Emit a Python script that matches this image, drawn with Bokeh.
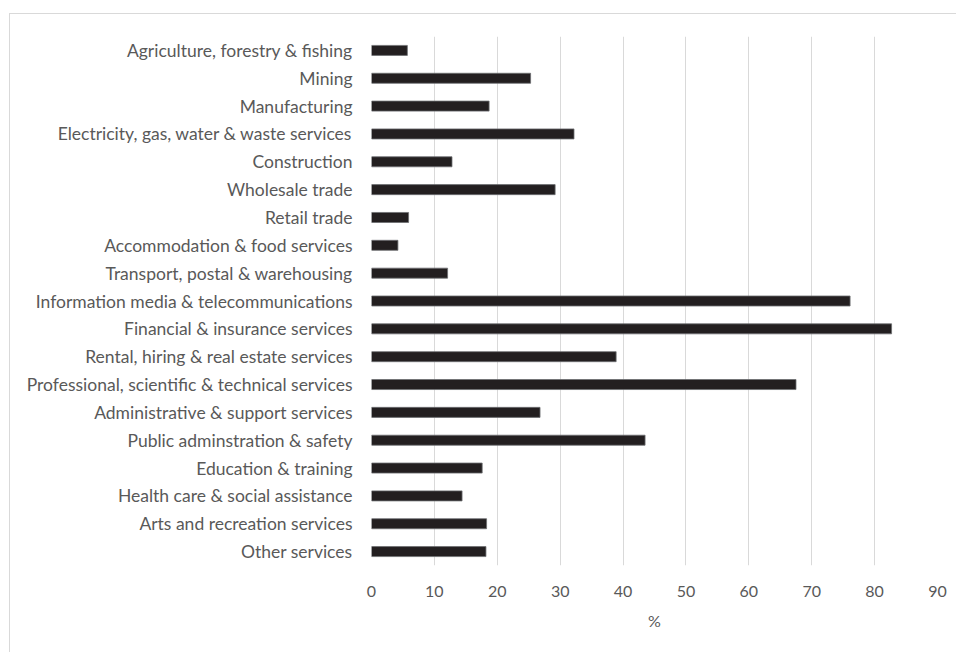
from bokeh.plotting import figure
from bokeh.models import Range1d, FactorRange, FixedTicker
from bokeh.embed import file_html
from bokeh.resources import INLINE

categories = [
    "Agriculture, forestry & fishing",
    "Mining",
    "Manufacturing",
    "Electricity, gas, water & waste services",
    "Construction",
    "Wholesale trade",
    "Retail trade",
    "Accommodation & food services",
    "Transport, postal & warehousing",
    "Information media & telecommunications",
    "Financial & insurance services",
    "Rental, hiring & real estate services",
    "Professional, scientific & technical services",
    "Administrative & support services",
    "Public adminstration & safety",
    "Education & training",
    "Health care & social assistance",
    "Arts and recreation services",
    "Other services",
]
values = [5.7, 25.3, 18.7, 32.2, 12.8, 29.2, 5.9, 4.2, 12.1,
          76.1, 82.7, 38.9, 67.5, 26.8, 43.5, 17.6, 14.4, 18.3, 18.2]
x_ticks = [0, 10, 20, 30, 40, 50, 60, 70, 80, 90]
x_title = "%"

p = figure(
    width=947, height=639,
    y_range=FactorRange(factors=list(reversed(categories))),
    x_range=Range1d(0, 90),
    output_backend="svg", toolbar_location=None,
    min_border_left=361, min_border_right=20, min_border_top=22, min_border_bottom=88,
)
p.styles = {"margin-left": "9px", "margin-top": "13px",
            "border-left": "1px solid #d9d9d9", "border-top": "1px solid #d9d9d9"}

p.hbar(y=categories, right=values, left=0, height=0.36,
       fill_color="#231f20", line_color="#6d6e71", line_width=0.8)

p.outline_line_color = None
p.ygrid.grid_line_color = None
p.xgrid.grid_line_color = "#d9d9d9"
p.xgrid.grid_line_width = 1
p.xaxis.ticker = FixedTicker(ticks=x_ticks)
p.xaxis.axis_line_color = None
p.xaxis.major_tick_line_color = None
p.xaxis.minor_tick_line_color = None
p.xaxis.major_label_text_font = "Lato"
p.xaxis.major_label_text_font_size = "16px"
p.xaxis.major_label_text_color = "#595959"
p.xaxis.major_label_standoff = 14
p.xaxis.axis_label = x_title
p.xaxis.axis_label_text_font = "Lato"
p.xaxis.axis_label_text_font_style = "normal"
p.xaxis.axis_label_text_font_size = "16px"
p.xaxis.axis_label_text_color = "#595959"
p.xaxis.axis_label_standoff = 11

p.yaxis.axis_line_color = None
p.yaxis.major_tick_line_color = None
p.yaxis.minor_tick_line_color = None
p.yaxis.major_label_text_font = "Lato"
p.yaxis.major_label_text_font_size = "17.5px"
p.yaxis.major_label_text_color = "#595959"
p.yaxis.major_label_standoff = 13

open("out.html", "w").write(file_html(p, INLINE))
